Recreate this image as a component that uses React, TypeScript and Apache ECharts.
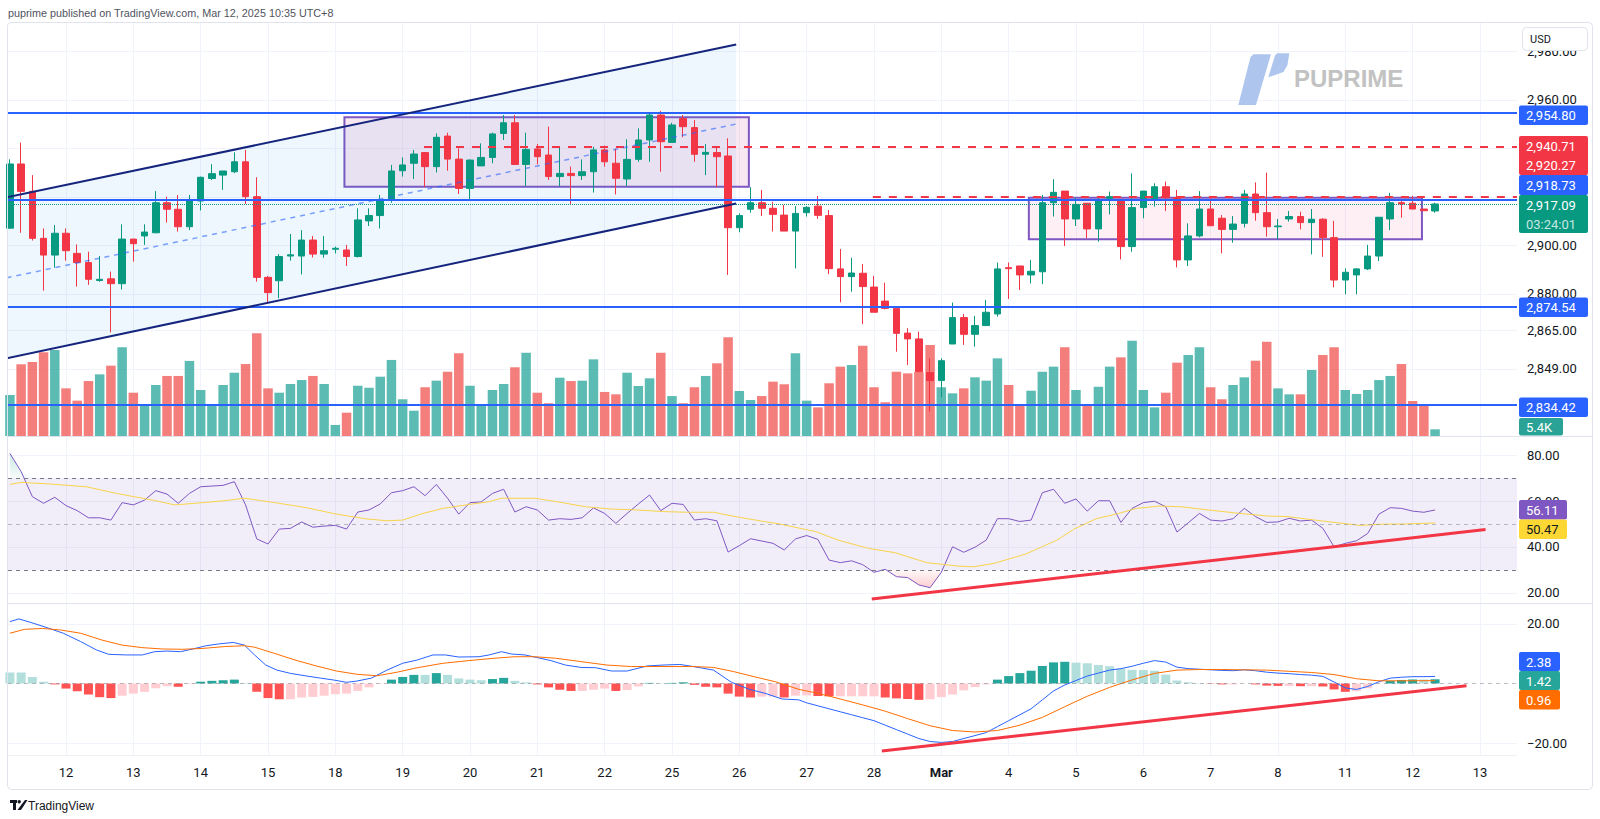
import React, { useEffect, useRef } from "react";
import * as echarts from "echarts";

// ---------- DATA ----------
const dayLabels = ["12", "13", "14", "15", "18", "19", "20", "21", "22", "25", "26", "27", "28", "Mar", "4", "5", "6", "7", "8", "11", "12", "13"];
const firstDayBar = 5;
const barsPerDay = 6;

const opens = [
  2907.1, 2933.6, 2922.3, 2902.9, 2896.0, 2905.0, 2896.7, 2892.9, 2885.5, 2886.2,
  2884.2, 2902.6, 2903.9, 2905.2, 2917.6, 2914.9, 2907.7, 2918.3, 2927.6, 2929.0,
  2930.4, 2934.5, 2920.1, 2886.8, 2885.4, 2895.6, 2895.6, 2902.2, 2896.4, 2898.4,
  2898.1, 2895.4, 2910.1, 2912.3, 2918.7, 2930.8, 2933.9, 2938.3, 2932.5, 2945.1,
  2935.6, 2923.5, 2932.8, 2936.3, 2946.2, 2950.6, 2933.4, 2939.8, 2937.3, 2928.4,
  2929.7, 2928.8, 2930.4, 2939.4, 2933.9, 2927.4, 2935.5, 2943.5, 2953.8, 2942.5,
  2952.4, 2948.6, 2937.6, 2938.3, 2936.9, 2907.3, 2914.9, 2917.6, 2915.3, 2912.5,
  2905.9, 2913.5, 2916.2, 2912.3, 2890.3, 2887.1, 2888.5, 2882.8, 2877.0, 2874.0,
  2863.8, 2861.4, 2847.5, 2844.2, 2859.3, 2870.2, 2863.3, 2866.9, 2871.7, 2890.8,
  2891.5, 2887.8, 2889.1, 2917.6, 2922.4, 2910.9, 2917.4, 2906.8, 2919.4, 2919.0,
  2899.5, 2915.6, 2918.7, 2924.2, 2919.7, 2894.0, 2903.9, 2915.0, 2911.2, 2906.6,
  2909.1, 2921.2, 2913.5, 2907.7, 2910.9, 2911.9, 2909.4, 2910.8, 2903.2, 2885.7,
  2887.8, 2890.3, 2895.6, 2910.9, 2917.6, 2917.4, 2915.0, 2914.2,
];
const closes = [
  2933.6, 2922.3, 2902.9, 2896.0, 2905.0, 2897.8, 2892.9, 2886.0, 2886.0, 2884.2,
  2902.6, 2900.7, 2905.5, 2917.6, 2914.9, 2907.7, 2918.3, 2928.1, 2929.6, 2930.7,
  2934.5, 2920.1, 2886.8, 2880.5, 2895.4, 2896.1, 2902.2, 2896.4, 2897.8, 2898.8,
  2895.4, 2910.5, 2912.3, 2918.4, 2930.7, 2933.2, 2937.7, 2932.5, 2944.6, 2935.6,
  2923.5, 2935.2, 2936.3, 2946.0, 2950.6, 2933.4, 2939.6, 2936.6, 2928.4, 2929.7,
  2928.8, 2930.4, 2939.4, 2934.5, 2927.7, 2935.5, 2943.5, 2953.8, 2942.8, 2949.7,
  2949.0, 2937.6, 2938.4, 2936.6, 2907.3, 2912.3, 2917.6, 2915.3, 2912.8, 2905.9,
  2913.2, 2915.7, 2912.4, 2890.4, 2887.1, 2888.6, 2883.0, 2872.4, 2874.0, 2863.7,
  2861.4, 2847.9, 2844.2, 2852.4, 2870.2, 2863.3, 2866.9, 2872.4, 2890.3, 2890.4,
  2887.8, 2889.3, 2917.6, 2921.9, 2910.9, 2916.9, 2906.8, 2918.7, 2920.1, 2899.5,
  2915.6, 2922.4, 2924.2, 2919.7, 2894.0, 2903.9, 2915.0, 2908.1, 2906.6, 2908.8,
  2921.2, 2913.5, 2907.7, 2908.0, 2911.9, 2909.4, 2910.8, 2903.2, 2885.7, 2888.9,
  2890.3, 2895.6, 2911.6, 2917.6, 2917.1, 2915.0, 2914.3, 2917.09,
];
const lows = [
  2907.0, 2905.2, 2902.0, 2881.3, 2890.8, 2893.7, 2883.0, 2883.7, 2885.0, 2864.1,
  2881.8, 2893.3, 2900.2, 2905.0, 2909.4, 2905.7, 2906.3, 2914.4, 2927.0, 2922.9,
  2929.8, 2917.1, 2885.0, 2876.4, 2878.2, 2893.7, 2888.0, 2895.0, 2894.9, 2896.7,
  2891.5, 2895.0, 2908.0, 2907.0, 2917.6, 2928.4, 2927.4, 2924.0, 2930.1, 2930.8,
  2921.2, 2918.7, 2932.8, 2933.9, 2943.5, 2933.4, 2924.5, 2933.4, 2927.0, 2924.5,
  2916.7, 2927.0, 2921.8, 2932.5, 2921.0, 2924.5, 2934.5, 2934.5, 2930.4, 2942.5,
  2944.6, 2934.5, 2929.0, 2924.0, 2887.8, 2905.4, 2913.5, 2912.1, 2905.7, 2905.9,
  2890.5, 2911.9, 2910.9, 2888.1, 2876.5, 2880.9, 2867.5, 2872.4, 2873.6, 2856.1,
  2850.6, 2847.9, 2831.4, 2837.3, 2859.3, 2858.9, 2858.2, 2866.9, 2870.6, 2877.9,
  2881.6, 2884.3, 2884.0, 2911.9, 2899.7, 2908.0, 2902.9, 2901.5, 2912.8, 2894.2,
  2897.4, 2911.2, 2916.0, 2914.2, 2890.9, 2891.5, 2903.3, 2908.1, 2896.7, 2901.1,
  2907.4, 2910.2, 2903.6, 2902.5, 2909.8, 2906.6, 2896.3, 2895.3, 2882.7, 2879.8,
  2879.8, 2889.8, 2893.5, 2906.3, 2911.4, 2915.0, 2914.3, 2913.5,
];
const highs = [
  2935.5, 2942.4, 2929.0, 2907.0, 2908.4, 2907.0, 2900.4, 2897.4, 2895.6, 2889.2,
  2908.7, 2902.6, 2908.7, 2922.4, 2920.1, 2920.8, 2920.8, 2928.4, 2933.5, 2930.7,
  2938.4, 2939.4, 2928.1, 2887.4, 2896.4, 2904.7, 2906.3, 2903.9, 2903.9, 2899.5,
  2900.2, 2915.3, 2915.3, 2920.8, 2933.2, 2936.3, 2939.4, 2938.3, 2946.2, 2946.5,
  2940.0, 2935.5, 2942.1, 2946.5, 2953.8, 2953.8, 2946.5, 2941.8, 2949.0, 2940.7,
  2932.5, 2935.5, 2940.7, 2941.2, 2940.0, 2943.8, 2948.3, 2954.5, 2955.5, 2950.6,
  2953.8, 2951.7, 2941.8, 2941.0, 2944.2, 2913.2, 2924.0, 2922.9, 2918.0, 2916.7,
  2916.2, 2916.2, 2920.4, 2914.6, 2898.5, 2894.9, 2892.3, 2887.4, 2884.6, 2874.0,
  2865.8, 2864.4, 2853.4, 2853.4, 2876.4, 2871.7, 2870.9, 2877.5, 2892.9, 2892.9,
  2891.5, 2894.0, 2920.8, 2927.3, 2922.4, 2919.7, 2917.4, 2919.7, 2922.2, 2919.0,
  2929.7, 2922.4, 2925.6, 2926.3, 2922.9, 2909.1, 2922.4, 2920.1, 2912.5, 2912.1,
  2922.9, 2926.0, 2930.0, 2910.9, 2914.2, 2913.9, 2915.0, 2911.2, 2910.1, 2890.5,
  2890.5, 2900.2, 2911.6, 2921.7, 2918.7, 2920.5, 2915.0, 2917.6,
];
const volumesK = [
  33.0, 57.8, 59.6, 67.5, 69.3, 38.4, 28.5, 44.3, 49.7, 56.7,
  71.5, 34.9, 24.4, 41.1, 48.4, 48.4, 60.5, 37.1, 25.8, 41.1,
  51.0, 58.0, 82.8, 38.4, 34.9, 41.9, 45.1, 48.4, 41.9, 8.9,
  18.8, 40.5, 38.9, 47.8, 61.3, 29.6, 20.4, 39.3, 44.6, 51.8,
  66.7, 40.5, 24.2, 37.1, 41.9, 55.4, 67.1, 34.9, 26.4, 47.0,
  44.3, 44.6, 61.8, 35.5, 33.6, 51.0, 40.3, 46.5, 67.1, 32.2,
  26.4, 39.3, 48.4, 58.6, 79.6, 36.3, 29.0, 32.2, 43.8, 41.7,
  66.7, 28.5, 23.1, 42.5, 55.9, 57.2, 72.8, 39.3, 27.2, 51.8,
  50.5, 51.8, 73.3, 39.3, 34.4, 38.4, 47.3, 44.6, 62.6, 41.1,
  25.0, 36.5, 51.8, 55.9, 71.5, 37.1, 25.5, 39.7, 55.9, 63.4,
  76.8, 37.1, 23.1, 34.9, 59.1, 65.3, 71.5, 39.3, 29.6, 41.1,
  47.3, 60.7, 76.0, 38.4, 33.6, 33.6, 53.2, 65.3, 71.5, 37.1,
  33.9, 37.1, 45.1, 48.4, 58.0, 28.2, 24.4, 5.4,
];
const rsiValues = [
  80.7, 72.8, 61.9, 59.0, 61.6, 58.0, 55.8, 52.7, 52.7, 51.7,
  59.3, 58.3, 60.4, 64.5, 63.0, 59.0, 63.3, 66.2, 66.5, 66.8,
  68.4, 58.3, 43.5, 41.3, 47.8, 48.1, 50.9, 48.6, 49.1, 49.4,
  47.8, 55.2, 56.1, 58.7, 63.6, 64.5, 66.2, 62.3, 67.2, 61.2,
  54.3, 59.3, 59.6, 63.3, 65.1, 55.2, 57.5, 56.1, 51.7, 52.3,
  52.0, 52.7, 57.0, 54.6, 50.3, 54.6, 58.7, 62.6, 55.8, 59.0,
  58.5, 51.7, 52.3, 51.4, 37.8, 40.6, 43.6, 42.6, 41.6, 38.7,
  43.5, 45.0, 43.3, 34.3, 33.2, 34.0, 32.3, 29.0, 30.3, 27.1,
  26.7, 23.5, 22.3, 29.0, 40.1, 37.7, 39.9, 43.0, 52.3, 52.3,
  51.1, 51.7, 63.6, 65.1, 59.0, 60.9, 55.6, 60.1, 60.1, 50.7,
  56.8, 59.3, 59.9, 57.5, 46.5, 50.5, 54.6, 51.7, 51.3, 52.3,
  56.8, 53.2, 50.7, 50.9, 52.5, 51.3, 51.7, 48.1, 40.1, 41.6,
  42.7, 45.9, 54.3, 57.1, 56.8, 55.6, 55.1, 56.11,
];
// RSI moving average, read as [bar position, value]
const rsiMaPoints = [
  [0, 67.2], [1, 68.1], [3.6, 67.4], [6.8, 66.2], [9.5, 63.3], [12.7, 60.4], [14.7, 58.3], [17.2, 59.3],
  [19.1, 60.1], [20.9, 61.2], [23.6, 59.3], [26.3, 57.2], [29.1, 54.3], [31.8, 52.2], [33.6, 51.4], [35, 51.7],
  [36.8, 54.6], [38.6, 56.8], [40.9, 58.5], [42.7, 59.7], [43.8, 61.2], [46.8, 61.2], [49.1, 59.4], [51.3, 57.5],
  [53.6, 56.5], [55.9, 56.1], [58.2, 55.4], [60.4, 55.1], [62.7, 55.1], [65, 52.9], [67.3, 51], [68.6, 50],
  [71.8, 46.7], [73.8, 43], [76.5, 39.4], [78.9, 37.5], [81.7, 33.2], [84.5, 31.7], [85.9, 31.4], [87.7, 32.9],
  [90.5, 36.9], [93.3, 43], [94.8, 47.7], [96.8, 52.3], [98.8, 54.6], [100.4, 56.8], [102.4, 57.8], [104.4, 57.5],
  [106.8, 56.1], [109.6, 54.6], [112, 53.5], [113.9, 53.2], [116.3, 51.7], [118.7, 50.3], [120.3, 49.4],
  [122.3, 49.9], [124.3, 50], [127, 50.47],
];
const macdPoints = [
  [0, 20.8], [0.8, 21.7], [1.8, 20.6], [3.2, 18.9], [4.75, 16.9], [6.3, 14.1], [7.7, 11.3], [8.8, 9.8],
  [10.4, 9.6], [11.8, 9.6], [12.9, 10.7], [14, 10.9], [15.2, 10.7], [16.3, 11.6], [17.5, 12.7], [18.6, 13.3],
  [19.9, 13.8], [20.9, 12.9], [21.8, 9.6], [22.8, 6.2], [23.8, 4.5], [25, 3.4], [26.3, 2.6], [27.7, 1.8],
  [28.8, 1.2], [30, 0.4], [30.9, 0.8], [32.2, 1.8], [33.6, 4.5], [35, 6.8], [36.3, 7.9], [37.7, 9.6],
  [38.8, 9.6], [40, 8.9], [41.8, 9.0], [42.7, 9.6], [43.8, 10.7], [44.7, 9.9], [45.9, 9.6], [47, 8.7],
  [48.2, 7.7], [49.5, 6.2], [50.9, 5.4], [52.2, 5.3], [53.6, 4.2], [55, 4.2], [56.8, 5.9], [58.2, 6.2],
  [59.7, 6.4], [60.9, 5.7], [62.7, 4.5], [64.3, 0.4], [65.9, -1.96], [67.3, -3.3], [68.8, -5.2], [70.3, -5.5],
  [71, -6.5], [72, -7.5], [73, -8.5], [74, -9.5], [75, -10.5], [76, -11.5], [77, -12.5], [78, -14],
  [79, -15.5], [80, -17], [81, -18.5], [82, -19.5], [83, -19.8], [84, -19.5], [85, -18.5], [86, -17.5],
  [87, -16.5], [88, -14.5], [89, -12.5], [90, -10.5], [91, -8.5], [92, -5.5], [93, -2.5], [94, -0.5],
  [95, 1], [96, 2.5], [97, 3.5], [98, 4.5], [99, 5], [100, 5.8], [101, 6.8], [102, 7.7], [103, 7.2],
  [104, 5.5], [105, 5], [106, 4.8], [107, 4.6], [108, 4.4], [109, 4.3], [110, 4.6], [111, 4.3], [112, 3.8],
  [113, 3.5], [114, 3.3], [115, 3.0], [116, 2.8], [117, 2.4], [118, 0.5], [119, -1.5], [120, -2.0],
  [121, -1.0], [122, 0.6], [123, 1.8], [124, 2.1], [125, 2.3], [126, 2.3], [127, 2.38],
];
const signalPoints = [
  [0, 16.9], [1.3, 18.2], [2.9, 18.5], [4.5, 18], [6.3, 16.9], [8.2, 14.6], [10, 12.9], [11.8, 12.05],
  [13.6, 11.6], [15.4, 11.5], [17.2, 11.8], [19.1, 12.4], [20.9, 12.7], [21.8, 12.2], [23.6, 10.1],
  [25.4, 7.9], [27.2, 6], [29.1, 4.2], [30.9, 3.1], [32.7, 2.6], [34.5, 3.8], [36.3, 5.3], [38.6, 6.8],
  [40.9, 7.7], [43.2, 8.5], [45, 9.0], [46.8, 9.0], [48.6, 8.5], [50.9, 7.35], [53.2, 6.2], [55.4, 5.7],
  [58.2, 5.7], [60.9, 5.7], [62.7, 5.4], [64.5, 4], [66.3, 2.3], [68.2, 0.6], [70.3, -1.96], [72, -3.3],
  [74, -5.2], [76, -7.2], [78, -9.3], [80, -11.8], [82, -14.2], [84, -15.8], [86, -16.3], [88, -15.8],
  [90, -14], [92, -11.4], [94, -7.8], [96, -4.3], [98, -1.3], [100, 1.2], [102, 3.4], [104, 4.5],
  [106, 4.7], [108, 4.7], [110, 4.6], [112, 4.5], [114, 4.1], [116, 3.7], [118, 3.0], [120, 1.6],
  [122, 0.9], [124, 0.9], [127, 0.96],
];
const histValues = [
  3.7, 3.7, 2.2, 0.6, -0.3, -1.7, -2.6, -3.7, -4.6, -4.9,
  -4.1, -3.4, -2.8, -1.6, -0.9, -1.1, -0.2, 0.6, 0.9, 1.1,
  1.3, 0.2, -2.8, -4.9, -5.3, -5.3, -4.7, -4.5, -4.1, -3.6,
  -3.4, -2.5, -1.3, -0.1, 1.3, 2.2, 2.9, 2.9, 3.5, 2.9,
  1.7, 1.3, 1.1, 1.5, 1.9, 0.9, 0.4, -0.3, -1.3, -2.1,
  -2.5, -2.5, -2.1, -1.7, -2.5, -2.2, -1.0, 0.2, 0.1, 0.2,
  0.4, -0.45, -1.1, -1.3, -3.4, -4.4, -4.7, -4.4, -4.4, -4.7,
  -4.1, -4.0, -4.2, -4.3, -4.3, -4.3, -4.3, -4.3, -4.7, -5.0,
  -5.2, -5.5, -5.3, -4.6, -3.7, -2.3, -1.2, -0.3, 1.3, 2.5,
  3.5, 4.3, 5.9, 7.1, 7.3, 7.0, 6.8, 6.2, 5.8, 5.0,
  4.6, 4.5, 4.3, 3.0, 1.0, 0.4, 0.1, -0.1, -0.3, -0.3,
  0.0, -0.3, -0.7, -0.8, -0.8, -0.9, -0.9, -1.0, -2.0, -2.8,
  -2.6, -1.6, -0.1, 0.9, 1.2, 1.35, 1.35, 1.42,
];

const priceLabelTicks = [2980, 2960, 2900, 2880, 2865, 2849];
const priceGridTicks = [2980, 2960, 2940, 2920, 2900, 2880, 2865, 2849];
const rsiTicks = [80, 60, 40, 20];
const macdTicks = [20, -20];

const blueLevels = [2954.8, 2918.73, 2874.54, 2834.42];
const redLevels = [
  { price: 2940.71, fromBar: 36.9 },
  { price: 2920.27, fromBar: 76.9 },
];
const lastPrice = 2917.09;
const channel = { x0: -0.3, x1: 64.72, upper0: 2919.8, upper1: 2982.9, lower0: 2853.4, lower1: 2917.3 };
const boxes = [
  { x0: 29.81, x1: 65.85, top: 2952.9, bottom: 2924.2, fill: "rgba(220,140,185,0.2)" },
  { x0: 90.8, x1: 125.83, top: 2919.7, bottom: 2902.5, fill: "rgba(233,30,99,0.07)" },
];
const rsiTrend = [[76.8, 17.4], [131.5, 47.6]];
const macdTrend = [[77.7, -22.7], [129.8, -0.74]];

// ---------- LAYOUT / STYLE ----------
const X_MIN = -0.17;
const X_MAX = 134.3;
const P_MIN = 2821.33;
const P_MAX = 2992.19;
const VOL_MAX = 333.7;
const RSI_MIN = 15.65;
const RSI_MAX = 87.83;
const MACD_MIN = -24.03;
const MACD_MAX = 26.72;

const FONT = "Roboto, 'Liberation Sans', sans-serif";
const GRID_C = "#f0f3fa";
const UP = "#089981";
const DOWN = "#f23645";
const BLUE = "#2962ff";

const fmt2 = (v: number) =>
  v.toLocaleString("en-US", { minimumFractionDigits: 2, maximumFractionDigits: 2 });

const dayTicks = dayLabels.map((_, k) => firstDayBar + k * barsPerDay);

function xAxisFor(gridIndex: number, showLabels: boolean) {
  return {
    type: "value",
    gridIndex,
    min: X_MIN,
    max: X_MAX,
    axisLine: { show: false },
    axisTick: { show: false, customValues: dayTicks },
    axisLabel: showLabels
      ? {
          show: true,
          customValues: dayTicks,
          margin: 11,
          color: "#131722",
          fontSize: 13,
          fontFamily: FONT,
          formatter: (v: number) => {
            const s = dayLabels[Math.round((v - firstDayBar) / barsPerDay)] ?? "";
            return s === "Mar" ? "{b|Mar}" : s;
          },
          rich: { b: { fontWeight: "bold", fontSize: 13, color: "#131722", fontFamily: FONT } },
        }
      : { show: false },
    splitLine: { show: true, lineStyle: { color: GRID_C, width: 1 } },
  };
}

function yAxisFor(gridIndex: number, min: number, max: number, labels: number[], grid: number[], fmt: (v: number) => string) {
  return {
    type: "value",
    gridIndex,
    position: "right",
    min,
    max,
    axisLine: { show: false },
    axisTick: { show: false, customValues: grid },
    axisLabel: {
      customValues: labels,
      formatter: fmt,
      color: "#131722",
      fontSize: 13,
      fontFamily: FONT,
      margin: 10,
    },
    splitLine: { show: true, lineStyle: { color: GRID_C, width: 1 } },
  };
}

function histColor(i: number) {
  const v = histValues[i];
  const p = i > 0 ? histValues[i - 1] : v;
  if (v >= 0) return v > p ? "#26a69a" : "#b2dfdb";
  return v < p ? "#ff5252" : "#ffcdd2";
}

const tags = [
  { top: 105.5, h: 19.5, w: 69, bg: BLUE, lines: [[fmt2(blueLevels[0]), "#ffffff"]] },
  { top: 136, h: 39, w: 69, bg: DOWN, lines: [[fmt2(redLevels[0].price), "#ffffff"], [fmt2(redLevels[1].price), "#ffffff"]] },
  { top: 175, h: 20, w: 69, bg: BLUE, lines: [[fmt2(blueLevels[1]), "#ffffff"]] },
  { top: 195, h: 38, w: 69, bg: UP, lines: [[fmt2(lastPrice), "#ffffff"], ["03:24:01", "rgba(255,255,255,0.78)"]] },
  { top: 297.5, h: 19.5, w: 69, bg: BLUE, lines: [[fmt2(blueLevels[2]), "#ffffff"]] },
  { top: 397.5, h: 19.5, w: 69, bg: BLUE, lines: [[fmt2(blueLevels[3]), "#ffffff"]] },
  { top: 418, h: 17.5, w: 44, bg: "#2aa396", lines: [[volumesK[volumesK.length - 1].toFixed(1) + "K", "#ffffff"]] },
  { top: 500, h: 19.5, w: 48, bg: "#7e57c2", lines: [[rsiValues[rsiValues.length - 1].toFixed(2), "#ffffff"]] },
  { top: 519.5, h: 19.5, w: 48, bg: "#fdd835", lines: [["50.47", "#131722"]] },
  { top: 652, h: 19, w: 41, bg: BLUE, lines: [["2.38", "#ffffff"]] },
  { top: 671, h: 19, w: 41, bg: "#26a69a", lines: [[histValues[histValues.length - 1].toFixed(2), "#ffffff"]] },
  { top: 690, h: 19.5, w: 41, bg: "#ff6d00", lines: [["0.96", "#ffffff"]] },
];

function txt(x: number, y: number, text: string, fill: string, size: number, align = "left", weight = "normal", family = FONT) {
  return {
    type: "text",
    z: 100,
    x,
    y,
    silent: true,
    style: {
      text,
      fill,
      fontSize: size,
      fontFamily: family,
      fontWeight: weight,
      align,
      verticalAlign: "middle",
      textAlign: align,
      textVerticalAlign: "middle",
    },
  };
}

function buildGraphics() {
  const els: any[] = [];
  // frame
  els.push({ type: "rect", z: 90, silent: true, shape: { x: 7.5, y: 22.5, width: 1585, height: 767, r: 4 }, style: { fill: "none", stroke: "#e0e3eb", lineWidth: 1 } });
  [436.5, 603.5].forEach((y) => {
    els.push({ type: "line", z: 90, silent: true, shape: { x1: 8, y1: y, x2: 1592, y2: y }, style: { stroke: "#e0e3eb", lineWidth: 1 } });
  });
  els.push({ type: "line", z: 90, silent: true, shape: { x1: 8, y1: 755.5, x2: 1517, y2: 755.5 }, style: { stroke: "#eef0f5", lineWidth: 1 } });
  // header
  els.push(txt(8, 13, "puprime published on TradingView.com, Mar 12, 2025 10:35 UTC+8", "#50535e", 10.8, "left", "normal", "'Liberation Sans', sans-serif"));
  // USD box
  els.push({ type: "rect", z: 100, silent: true, shape: { x: 1522.5, y: 27.5, width: 65, height: 23, r: 4 }, style: { fill: "#ffffff", stroke: "#e0e3eb", lineWidth: 1 } });
  els.push(txt(1530, 39, "USD", "#131722", 11));
  // price tags
  tags.forEach((t) => {
    els.push({ type: "rect", z: 100, silent: true, shape: { x: 1519, y: t.top, width: t.w, height: t.h, r: 2 }, style: { fill: t.bg } });
    const lh = t.h / t.lines.length;
    t.lines.forEach((ln, k) => {
      els.push(txt(1526, t.top + lh * (k + 0.5) + 0.5, ln[0] as string, ln[1] as string, 13));
    });
  });
  // PUPRIME logo
  els.push({ type: "polygon", z: 95, silent: true, shape: { points: [[1250.5, 57], [1253.5, 54.3], [1271, 54.3], [1256, 105], [1238.3, 105]] }, style: { fill: "#aec6ee" } });
  els.push({ type: "polygon", z: 95, silent: true, shape: { points: [[1275, 55.5], [1277.3, 53.3], [1289.3, 53.3], [1287.5, 65], [1283.5, 72], [1268.3, 77.3]] }, style: { fill: "#aec6ee" } });
  els.push(txt(1294, 78, "PUPRIME", "#c2c2c2", 24, "left", "bold", "'Liberation Sans', Arial, sans-serif"));
  // TradingView footer logo
  els.push({ type: "rect", z: 100, silent: true, shape: { x: 10, y: 800, width: 7, height: 3 }, style: { fill: "#131722" } });
  els.push({ type: "rect", z: 100, silent: true, shape: { x: 13, y: 800, width: 3, height: 10 }, style: { fill: "#131722" } });
  els.push({ type: "circle", z: 100, silent: true, shape: { cx: 19.2, cy: 801.7, r: 1.7 }, style: { fill: "#131722" } });
  els.push({ type: "polygon", z: 100, silent: true, shape: { points: [[17.5, 810], [21.5, 804.5], [25, 800], [27.5, 800], [21, 810]] }, style: { fill: "#131722" } });
  els.push(txt(28, 805.5, "TradingView", "#131722", 12, "left", "normal", "'Liberation Sans', sans-serif"));
  return els;
}

function buildOption(): any {
  const candleData = opens.map((o, i) => [i, o, closes[i], lows[i], highs[i]]);
  const volData = volumesK.map((v, i) => ({
    value: [i, v],
    itemStyle: { color: closes[i] >= opens[i] ? "rgba(38,166,154,0.75)" : "rgba(239,83,80,0.75)" },
  }));
  const histData = histValues.map((v, i) => ({ value: [i, v], itemStyle: { color: histColor(i) } }));
  const rsiData = rsiValues.map((v, i) => [i, v]);

  const levelMarks: any[] = blueLevels.map((p) => ({ yAxis: p, lineStyle: { color: BLUE, width: 2, type: "solid" } }));
  levelMarks.push({ yAxis: lastPrice, lineStyle: { color: UP, width: 1, type: "dotted" } });
  redLevels.forEach((r) => {
    levelMarks.push([
      { coord: [r.fromBar, r.price], lineStyle: { color: DOWN, width: 2, type: [8, 8] } },
      { coord: [X_MAX, r.price], lineStyle: { color: DOWN, width: 2, type: [8, 8] } },
    ]);
  });

  const boxMarks = boxes.map((b) => [
    { coord: [b.x0, b.top], itemStyle: { color: b.fill, borderColor: "#7e57c2", borderWidth: 2 } },
    { coord: [b.x1, b.bottom] },
  ]);

  const line = (name: string, xi: number, yi: number, data: any[], color: string, width: number, type: any = "solid", z = 5, extra: any = {}) => ({
    name,
    type: "line",
    xAxisIndex: xi,
    yAxisIndex: yi,
    data,
    symbol: "none",
    silent: true,
    z,
    lineStyle: { color, width, type },
    ...extra,
  });

  return {
    animation: false,
    backgroundColor: "#ffffff",
    textStyle: { fontFamily: FONT },
    grid: [
      { left: 8, right: 83, top: 22, height: 414 },
      { left: 8, right: 83, top: 437, height: 166 },
      { left: 8, right: 83, top: 604, height: 151 },
    ],
    xAxis: [xAxisFor(0, false), xAxisFor(1, false), xAxisFor(2, true)],
    yAxis: [
      yAxisFor(0, P_MIN, P_MAX, priceLabelTicks, priceGridTicks, fmt2),
      { type: "value", gridIndex: 0, min: 0, max: VOL_MAX, show: false },
      yAxisFor(1, RSI_MIN, RSI_MAX, rsiTicks, rsiTicks, fmt2),
      yAxisFor(2, MACD_MIN, MACD_MAX, macdTicks, macdTicks, (v: number) => (v < 0 ? "\u2212" + fmt2(-v) : fmt2(v))),
    ],
    graphic: { elements: buildGraphics() },
    series: [
      {
        name: "Volume",
        type: "bar",
        xAxisIndex: 0,
        yAxisIndex: 1,
        data: volData,
        barWidth: 9.5,
        silent: true,
        z: 1,
      },
      {
        name: "ChannelFill",
        type: "custom",
        xAxisIndex: 0,
        yAxisIndex: 0,
        data: [[channel.x0, channel.lower0]],
        silent: true,
        clip: true,
        z: 2,
        renderItem: (_p: any, api: any) => {
          const pts = [
            [channel.x0, channel.upper0],
            [channel.x1, channel.upper1],
            [channel.x1, channel.lower1],
            [channel.x0, channel.lower0],
          ].map((c) => api.coord(c));
          return { type: "polygon", shape: { points: pts }, style: { fill: "rgba(33,150,243,0.075)" } };
        },
      },
      {
        name: "XAUUSD",
        type: "candlestick",
        xAxisIndex: 0,
        yAxisIndex: 0,
        data: candleData,
        barWidth: 7,
        silent: true,
        z: 3,
        itemStyle: { color: UP, color0: DOWN, borderColor: UP, borderColor0: DOWN, borderWidth: 1 },
      },
      line("ChannelUpper", 0, 0, [[channel.x0, channel.upper0], [channel.x1, channel.upper1]], "#15257d", 2),
      line("ChannelLower", 0, 0, [[channel.x0, channel.lower0], [channel.x1, channel.lower1]], "#15257d", 2),
      line(
        "ChannelMid",
        0,
        0,
        [[channel.x0, (channel.upper0 + channel.lower0) / 2], [channel.x1, (channel.upper1 + channel.lower1) / 2]],
        "rgba(41,98,255,0.6)",
        1.5,
        [5, 5],
        5,
        {
          markArea: { silent: true, data: boxMarks },
          markLine: { silent: true, symbol: ["none", "none"], label: { show: false }, data: levelMarks },
        }
      ),
      // RSI zone fills
      line("RSIOversold", 1, 2, rsiValues.map((v, i) => [i, Math.min(v, 30)]), "rgba(0,0,0,0)", 0, "solid", 2, {
        areaStyle: {
          origin: 30,
          color: new echarts.graphic.LinearGradient(0, 0, 0, 1, [
            { offset: 0, color: "rgba(242,54,69,0.05)" },
            { offset: 1, color: "rgba(242,54,69,0.35)" },
          ]),
        },
      }),
      line("RSIOverbought", 1, 2, rsiValues.map((v, i) => [i, Math.max(v, 70)]), "rgba(0,0,0,0)", 0, "solid", 2, {
        areaStyle: {
          origin: 70,
          color: new echarts.graphic.LinearGradient(0, 0, 0, 1, [
            { offset: 0, color: "rgba(8,153,129,0.3)" },
            { offset: 1, color: "rgba(8,153,129,0.05)" },
          ]),
        },
      }),
      line("RSI", 1, 2, rsiData, "#7e57c2", 1, "solid", 4, {
        markArea: { silent: true, data: [[{ yAxis: 30, itemStyle: { color: "rgba(126,87,194,0.1)" } }, { yAxis: 70 }]] },
        markLine: {
          silent: true,
          symbol: ["none", "none"],
          label: { show: false },
          lineStyle: { color: "#787b86", width: 1, type: [4, 4] },
          data: [
            { yAxis: 70 },
            { yAxis: 50, lineStyle: { color: "rgba(120,123,134,0.5)", width: 1, type: [4, 4] } },
            { yAxis: 30 },
          ],
        },
      }),
      line("RSI MA", 1, 2, rsiMaPoints, "#f7d34a", 1, "solid", 4),
      line("RSI Trend", 1, 2, rsiTrend, DOWN, 3, "solid", 6),
      {
        name: "Histogram",
        type: "bar",
        xAxisIndex: 2,
        yAxisIndex: 3,
        data: histData,
        barWidth: 9,
        silent: true,
        z: 2,
      },
      line("MACD", 2, 3, macdPoints, BLUE, 1, "solid", 4, {
        markLine: {
          silent: true,
          symbol: ["none", "none"],
          label: { show: false },
          lineStyle: { color: "rgba(120,123,134,0.5)", width: 1, type: [4, 4] },
          data: [{ yAxis: 0 }],
        },
      }),
      line("Signal", 2, 3, signalPoints, "#ff6d00", 1, "solid", 4),
      line("MACD Trend", 2, 3, macdTrend, DOWN, 3, "solid", 6),
    ],
  };
}

export default function App() {
  const ref = useRef<HTMLDivElement>(null);
  useEffect(() => {
    if (!ref.current) return;
    const chart = echarts.init(ref.current, undefined, { renderer: "svg" });
    chart.setOption(buildOption());
    return () => chart.dispose();
  }, []);
  return (
    <div
      ref={ref}
      style={{ position: "fixed", left: 0, top: 0, width: 1600, height: 819, background: "#ffffff" }}
    />
  );
}
